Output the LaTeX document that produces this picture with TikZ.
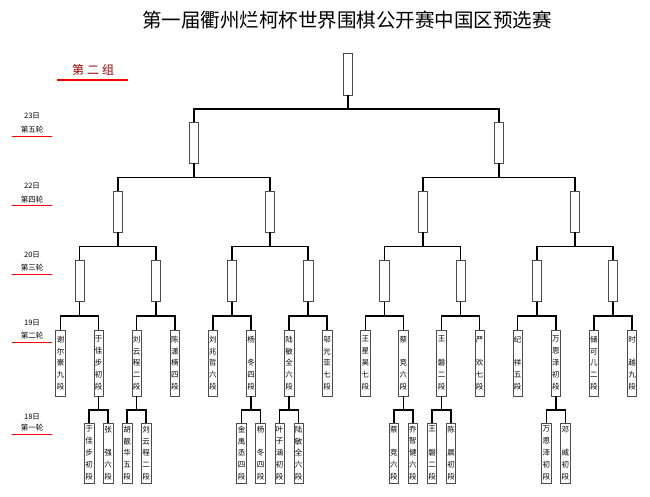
\documentclass[tikz,border=0pt]{standalone}
\usepackage{fontspec}
\setmainfont{Noto Sans CJK SC}
\usetikzlibrary{positioning}
\begin{document}
\begin{tikzpicture}[x=1pt,y=-1pt,
 every node/.style={inner sep=0pt},
 ln/.style={line width=1.5pt},
 bx/.style={draw=black!70,fill=white,line width=.6pt,minimum width=9.5pt,minimum height=41pt},
 pl/.style={bx,minimum height=66pt,text width=8pt,align=center,font=\fontsize{7.5}{11.8}\selectfont},
 pk/.style={pl,minimum height=60pt},
 rd/.style={draw=red,line width=1pt},
 lb/.style={font=\fontsize{7.5}{9}\selectfont}]
 \useasboundingbox (0,0) rectangle (650,496);
 % titles
 \node[font=\fontsize{19.5}{20}\selectfont] (title) at (347,20) {第一届衢州烂柯杯世界围棋公开赛中国区预选赛};
 \node[font=\fontsize{12}{12}\selectfont,text=red!60!black] (grp) at (93,70) {第\hspace{3pt}二\hspace{3pt}组};
 \draw[red,line width=1.3pt] (57,80) -- (128,80);
 % days and rounds
 \node[lb] (d5) at (32,116) {23日};
 \node[lb] (k5) at (32,130) {第五轮};
 \draw[rd] (12,136) -- (52,136);
 \node[lb] (d4) at (32,186) {22日};
 \node[lb] (k4) at (32,200) {第四轮};
 \draw[rd] (12,205) -- (52,205);
 \node[lb] (d3) at (32,255) {20日};
 \node[lb] (k3) at (32,268) {第三轮};
 \draw[rd] (12,274) -- (52,274);
 \node[lb] (d2) at (32,323) {19日};
 \node[lb] (k2) at (32,336) {第二轮};
 \draw[rd] (12,342) -- (52,342);
 \node[lb] (d1) at (32,417) {18日};
 \node[lb] (k1) at (32,428) {第一轮};
 \draw[rd] (12,434) -- (52,434);
 % empty boxes
 \node[bx,minimum height=42pt] (w) at (348,74) {};
 \node[bx] (v1) at (194,142.5) {};
 \node[bx] (v2) at (499,142.5) {};
 \node[bx] (u1) at (118,211.5) {};
 \node[bx] (u2) at (270,211.5) {};
 \node[bx] (u3) at (423,211.5) {};
 \node[bx] (u4) at (575,211.5) {};
 \node[bx] (t1) at (79.6,281) {};
 \node[bx] (t2) at (155.8,281) {};
 \node[bx] (t3) at (232,281) {};
 \node[bx] (t4) at (308.2,281) {};
 \node[bx] (t5) at (384.4,281) {};
 \node[bx] (t6) at (460.6,281) {};
 \node[bx] (t7) at (536.8,281) {};
 \node[bx] (t8) at (613,281) {};
 % 19th
 \node[pl] (p1) at (60.5,363) {谢\\尔\\豪\\九\\段};
 \node[pl] (p2) at (98.6,363) {于\\佳\\步\\初\\段};
 \node[pl] (p3) at (136.7,363) {刘\\云\\程\\二\\段};
 \node[pl] (p4) at (174.8,363) {陈\\潇\\楠\\四\\段};
 \node[pl] (p5) at (212.9,363) {刘\\兆\\哲\\六\\段};
 \node[pl] (p6) at (251,363) {杨\\\mbox{}\\冬\\四\\段};
 \node[pl] (p7) at (289.1,363) {陆\\敏\\全\\六\\段};
 \node[pl] (p8) at (327.2,363) {邬\\光\\亚\\七\\段};
 \node[pl] (p9) at (365.3,363) {王\\星\\昊\\七\\段};
 \node[pl] (p10) at (403.4,363) {蔡\\\mbox{}\\竞\\六\\段};
 \node[pl] (p11) at (441.5,363) {王\\\mbox{}\\磐\\二\\段};
 \node[pl] (p12) at (479.6,363) {严\\\mbox{}\\欢\\七\\段};
 \node[pl] (p13) at (517.7,363) {纪\\\mbox{}\\祥\\五\\段};
 \node[pl] (p14) at (555.8,363) {万\\恩\\泽\\初\\段};
 \node[pl] (p15) at (593.9,363) {储\\可\\儿\\二\\段};
 \node[pl] (p16) at (632,363) {时\\\mbox{}\\越\\九\\段};
 % 18th
 \node[pk] (q1) at (89.1,453) {于\\佳\\步\\初\\段};
 \node[pk] (q2) at (108.1,453) {张\\\mbox{}\\强\\六\\段};
 \node[pk] (q3) at (127.2,453) {胡\\靓\\华\\五\\段};
 \node[pk] (q4) at (146.2,453) {刘\\云\\程\\二\\段};
 \node[pk] (q5) at (241.5,453) {金\\禹\\丞\\四\\段};
 \node[pk] (q6) at (260.5,453) {杨\\\mbox{}\\冬\\四\\段};
 \node[pk] (q7) at (279.6,453) {叶\\子\\涵\\初\\段};
 \node[pk] (q8) at (298.6,453) {陆\\敏\\全\\六\\段};
 \node[pk] (q9) at (393.9,453) {蔡\\\mbox{}\\竞\\六\\段};
 \node[pk] (q10) at (412.9,453) {乔\\智\\健\\六\\段};
 \node[pk] (q11) at (432,453) {王\\\mbox{}\\磐\\二\\段};
 \node[pk] (q12) at (451,453) {陈\\\mbox{}\\晨\\初\\段};
 \node[pk] (q13) at (546.3,453) {万\\恩\\泽\\初\\段};
 \node[pk] (q14) at (565.3,453) {邓\\\mbox{}\\威\\初\\段};
 % brackets
 \draw[ln] (w.south) -- ++(0,13.5) -| (v1.north) (w.south) ++(0,13.5) -| (v2.north);
 \draw[ln] (v1.south) -- ++(0,14) -| (u1.north) (v1.south) ++(0,14) -| (u2.north);
 \draw[ln] (v2.south) -- ++(0,14) -| (u3.north) (v2.south) ++(0,14) -| (u4.north);
 \draw[ln] (u1.south) -- ++(0,14) -| (t1.north) (u1.south) ++(0,14) -| (t2.north);
 \draw[ln] (u2.south) -- ++(0,14) -| (t3.north) (u2.south) ++(0,14) -| (t4.north);
 \draw[ln] (u3.south) -- ++(0,14) -| (t5.north) (u3.south) ++(0,14) -| (t6.north);
 \draw[ln] (u4.south) -- ++(0,14) -| (t7.north) (u4.south) ++(0,14) -| (t8.north);
 \draw[ln] (t1.south) -- ++(0,14) -| (p1.north) (t1.south) ++(0,14) -| (p2.north);
 \draw[ln] (t2.south) -- ++(0,14) -| (p3.north) (t2.south) ++(0,14) -| (p4.north);
 \draw[ln] (t3.south) -- ++(0,14) -| (p5.north) (t3.south) ++(0,14) -| (p6.north);
 \draw[ln] (t4.south) -- ++(0,14) -| (p7.north) (t4.south) ++(0,14) -| (p8.north);
 \draw[ln] (t5.south) -- ++(0,14) -| (p9.north) (t5.south) ++(0,14) -| (p10.north);
 \draw[ln] (t6.south) -- ++(0,14) -| (p11.north) (t6.south) ++(0,14) -| (p12.north);
 \draw[ln] (t7.south) -- ++(0,14) -| (p13.north) (t7.south) ++(0,14) -| (p14.north);
 \draw[ln] (t8.south) -- ++(0,14) -| (p15.north) (t8.south) ++(0,14) -| (p16.north);
 \draw[ln] (p2.south) -- ++(0,13.5) -| (q1.north) (p2.south) ++(0,13.5) -| (q2.north);
 \draw[ln] (p3.south) -- ++(0,13.5) -| (q3.north) (p3.south) ++(0,13.5) -| (q4.north);
 \draw[ln] (p6.south) -- ++(0,13.5) -| (q5.north) (p6.south) ++(0,13.5) -| (q6.north);
 \draw[ln] (p7.south) -- ++(0,13.5) -| (q7.north) (p7.south) ++(0,13.5) -| (q8.north);
 \draw[ln] (p10.south) -- ++(0,13.5) -| (q9.north) (p10.south) ++(0,13.5) -| (q10.north);
 \draw[ln] (p11.south) -- ++(0,13.5) -| (q11.north) (p11.south) ++(0,13.5) -| (q12.north);
 \draw[ln] (p14.south) -- ++(0,13.5) -| (q13.north) (p14.south) ++(0,13.5) -| (q14.north);
\end{tikzpicture}
\end{document}
